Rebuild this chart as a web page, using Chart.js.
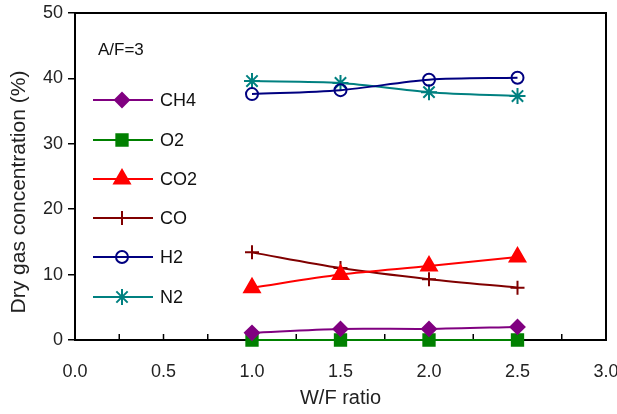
<!DOCTYPE html>
<html>
<head>
    <title>Dry gas concentration vs W/F ratio</title>
    <script src="https://cdn.jsdelivr.net/npm/chart.js"></script>
    <style>
        body { margin: 0; background: #fff; }
        #wrap { width: 617px; height: 414px; }
    </style>
</head>
<body>
    <div id="wrap"><canvas id="gasChart" width="617" height="414"></canvas></div>

    <script>
        // W/F ratio values and measured concentrations (%)
        const wfRatio = [1.0, 1.5, 2.0, 2.5];
        const ch4 = [1.1, 1.7, 1.7, 2.0];
        const o2 = [0, 0, 0, 0];
        const co2 = [8.0, 10.0, 11.3, 12.7];
        const co = [13.4, 11.0, 9.3, 8.0];
        const h2 = [37.6, 38.2, 39.8, 40.1];
        const n2 = [39.6, 39.3, 37.9, 37.3];
        const xTicks = [0, 0.25, 0.5, 0.75, 1, 1.25, 1.5, 1.75, 2, 2.25, 2.5, 2.75, 3];
        const noteText = 'A/F=3';
        const yTitle = 'Dry gas concentration (%)';

        const FONT = 'Liberation Sans, Arial, sans-serif';

        function pts(ys) {
            return wfRatio.map((x, i) => ({ x: x, y: ys[i] }));
        }

        function series(label, ys, color, style, radius, filled) {
            return {
                label: label,
                data: pts(ys),
                borderColor: color,
                backgroundColor: filled ? color : 'rgba(0,0,0,0)',
                pointBorderColor: color,
                pointBackgroundColor: filled ? color : 'rgba(0,0,0,0)',
                pointStyle: style,
                pointRadius: radius,
                pointBorderWidth: 2,
                borderWidth: 2,
                tension: 0.3
            };
        }

        // box border and inside x ticks, under the data
        const framePlugin = {
            id: 'frame',
            beforeDatasetsDraw(chart) {
                const ctx = chart.ctx;
                const a = chart.chartArea;
                const xs = chart.scales.x;
                ctx.save();
                ctx.strokeStyle = '#000';
                ctx.lineWidth = 2;
                ctx.strokeRect(a.left, a.top, a.right - a.left, a.bottom - a.top);
                ctx.lineWidth = 1.5;
                xTicks.forEach(v => {
                    const px = xs.getPixelForValue(v);
                    ctx.beginPath();
                    ctx.moveTo(px, a.bottom);
                    ctx.lineTo(px, a.bottom - 6);
                    ctx.stroke();
                });

                // y title sits a little below the middle, as in the original
                ctx.translate(19, 192);
                ctx.rotate(-Math.PI / 2);
                ctx.fillStyle = '#222';
                ctx.font = '21px ' + FONT;
                ctx.textAlign = 'center';
                ctx.textBaseline = 'middle';
                ctx.fillText(yTitle, 0, 0);
                ctx.restore();
            },
            // note text and legend drawn inside the plot
            afterDraw(chart) {
                const ctx = chart.ctx;
                ctx.save();
                ctx.fillStyle = '#111';
                ctx.font = '17px ' + FONT;
                ctx.textBaseline = 'middle';
                ctx.fillText(noteText, 98, 50);

                const rows = [100, 140, 179, 218, 257, 297];
                chart.data.datasets.forEach((ds, i) => {
                    const y = rows[i];
                    ctx.strokeStyle = ds.borderColor;
                    ctx.lineWidth = 2;
                    ctx.beginPath();
                    ctx.moveTo(93, y);
                    ctx.lineTo(153, y);
                    ctx.stroke();
                    ctx.fillStyle = ds.pointBackgroundColor;
                    ctx.strokeStyle = ds.pointBorderColor;
                    Chart.helpers.drawPoint(ctx, {
                        pointStyle: ds.pointStyle,
                        radius: ds.pointRadius,
                        borderWidth: 2,
                        rotation: 0
                    }, 122, y);
                    ctx.fillStyle = '#111';
                    ctx.font = '18px ' + FONT;
                    ctx.fillText(ds.label, 160, y + 1);
                });
                ctx.restore();
            }
        };

        const ctx = document.getElementById('gasChart').getContext('2d');

        new Chart(ctx, {
            type: 'line',
            data: {
                datasets: [
                    series('CH4', ch4, '#800080', 'rectRot', 7, true),
                    series('O2', o2, '#008000', 'rect', 8, true),
                    series('CO2', co2, '#ff0000', 'triangle', 9, true),
                    series('CO', co, '#800000', 'cross', 7, false),
                    series('H2', h2, '#000080', 'circle', 6, false),
                    series('N2', n2, '#008080', 'star', 8, false)
                ]
            },
            options: {
                responsive: false,
                animation: false,
                clip: false,
                layout: { padding: { left: 0, right: 9, top: 13, bottom: 0 } },
                plugins: {
                    legend: { display: false },
                    tooltip: { enabled: false }
                },
                scales: {
                    x: {
                        type: 'linear',
                        min: 0,
                        max: 3,
                        ticks: {
                            stepSize: 0.5,
                            color: '#222',
                            font: { family: FONT, size: 18 },
                            padding: 13,
                            callback: v => v.toFixed(1)
                        },
                        grid: { display: false },
                        border: { display: false },
                        title: {
                            display: true,
                            text: 'W/F ratio',
                            color: '#222',
                            font: { family: FONT, size: 20 },
                            padding: { top: 0 }
                        },
                        afterFit(scale) {
                            scale.height = 74;
                            scale.paddingRight = 0;
                            scale.paddingLeft = 0;
                        }
                    },
                    y: {
                        min: 0,
                        max: 50,
                        ticks: {
                            stepSize: 10,
                            color: '#222',
                            font: { family: FONT, size: 18 },
                            padding: 5
                        },
                        grid: {
                            drawOnChartArea: false,
                            drawTicks: true,
                            tickLength: 7,
                            color: '#000',
                            lineWidth: 1.5
                        },
                        border: { display: false },
                        title: { display: false },
                        afterFit(scale) {
                            scale.width = 75;
                            scale.paddingTop = 0;
                            scale.paddingBottom = 0;
                        }
                    }
                }
            },
            plugins: [framePlugin]
        });
    </script>
</body>
</html>
